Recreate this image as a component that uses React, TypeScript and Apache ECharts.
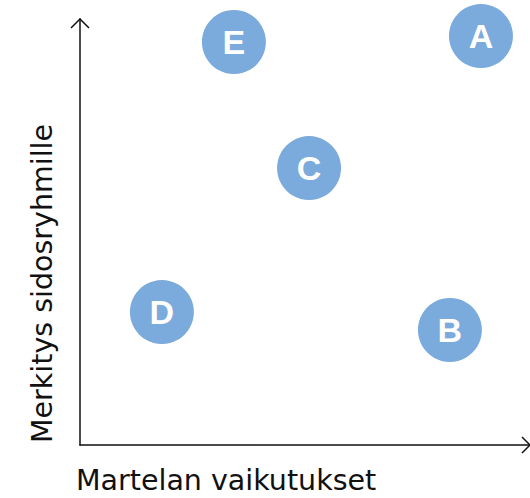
import React, { useEffect, useRef } from "react";
import * as echarts from "echarts";

const labels = ["A", "B", "C", "D", "E"];
const impactValues = [89.1, 82.2, 50.9, 18.2, 34.2];
const relevanceValues = [96.0, 27.0, 65.0, 31.2, 94.6];
const xAxisName = "Martelan vaikutukset";
const yAxisName = "Merkitys sidosryhmille";

export default function App() {
  const ref = useRef<HTMLDivElement>(null);
  useEffect(() => {
    if (!ref.current) return;
    const chart = echarts.init(ref.current, null, { renderer: "svg" });
    const data = labels.map((n, i) => ({ name: n, value: [impactValues[i], relevanceValues[i]] }));
    const font = "'DejaVu Sans', sans-serif";
    chart.setOption({
      animation: false,
      grid: { left: 80, right: 0, top: 19, bottom: 53 },
      xAxis: {
        type: "value", min: 0, max: 100,
        axisLine: { show: true, onZero: false, lineStyle: { color: "#111", width: 1.5 } },
        axisTick: { show: false }, axisLabel: { show: false }, splitLine: { show: false },
      },
      yAxis: {
        type: "value", min: 0, max: 100,
        axisLine: { show: true, onZero: false, lineStyle: { color: "#111", width: 1.5 } },
        axisTick: { show: false }, axisLabel: { show: false }, splitLine: { show: false },
      },
      graphic: [
        { type: "polyline", shape: { points: [[71, 28], [80, 19], [89, 28]] }, style: { stroke: "#111", lineWidth: 1.5, fill: null } },
        { type: "polyline", shape: { points: [[522, 437], [530, 445], [522, 453]] }, style: { stroke: "#111", lineWidth: 1.5, fill: null } },
        { type: "text", x: 76, y: 480, style: { text: xAxisName, font: `28.5px ${font}`, fill: "#111", textAlign: "left", textVerticalAlign: "middle" } },
        { type: "text", x: 42, y: 443, rotation: Math.PI / 2, style: { text: yAxisName, font: `28.5px ${font}`, fill: "#111", textAlign: "left", textVerticalAlign: "middle" } },
      ],
      series: [
        {
          type: "scatter",
          data,
          symbolSize: 64,
          itemStyle: { color: "#7BAADC", opacity: 1 },
          label: {
            show: true, position: "inside", formatter: "{b}", color: "#fff",
            fontWeight: "bold", fontSize: 34, fontFamily: "'Liberation Sans', Arial, sans-serif",
          },
        },
      ],
    });
    return () => chart.dispose();
  }, []);
  return <div ref={ref} style={{ width: 530, height: 498, position: "absolute", left: 0, top: 0 }} />;
}
